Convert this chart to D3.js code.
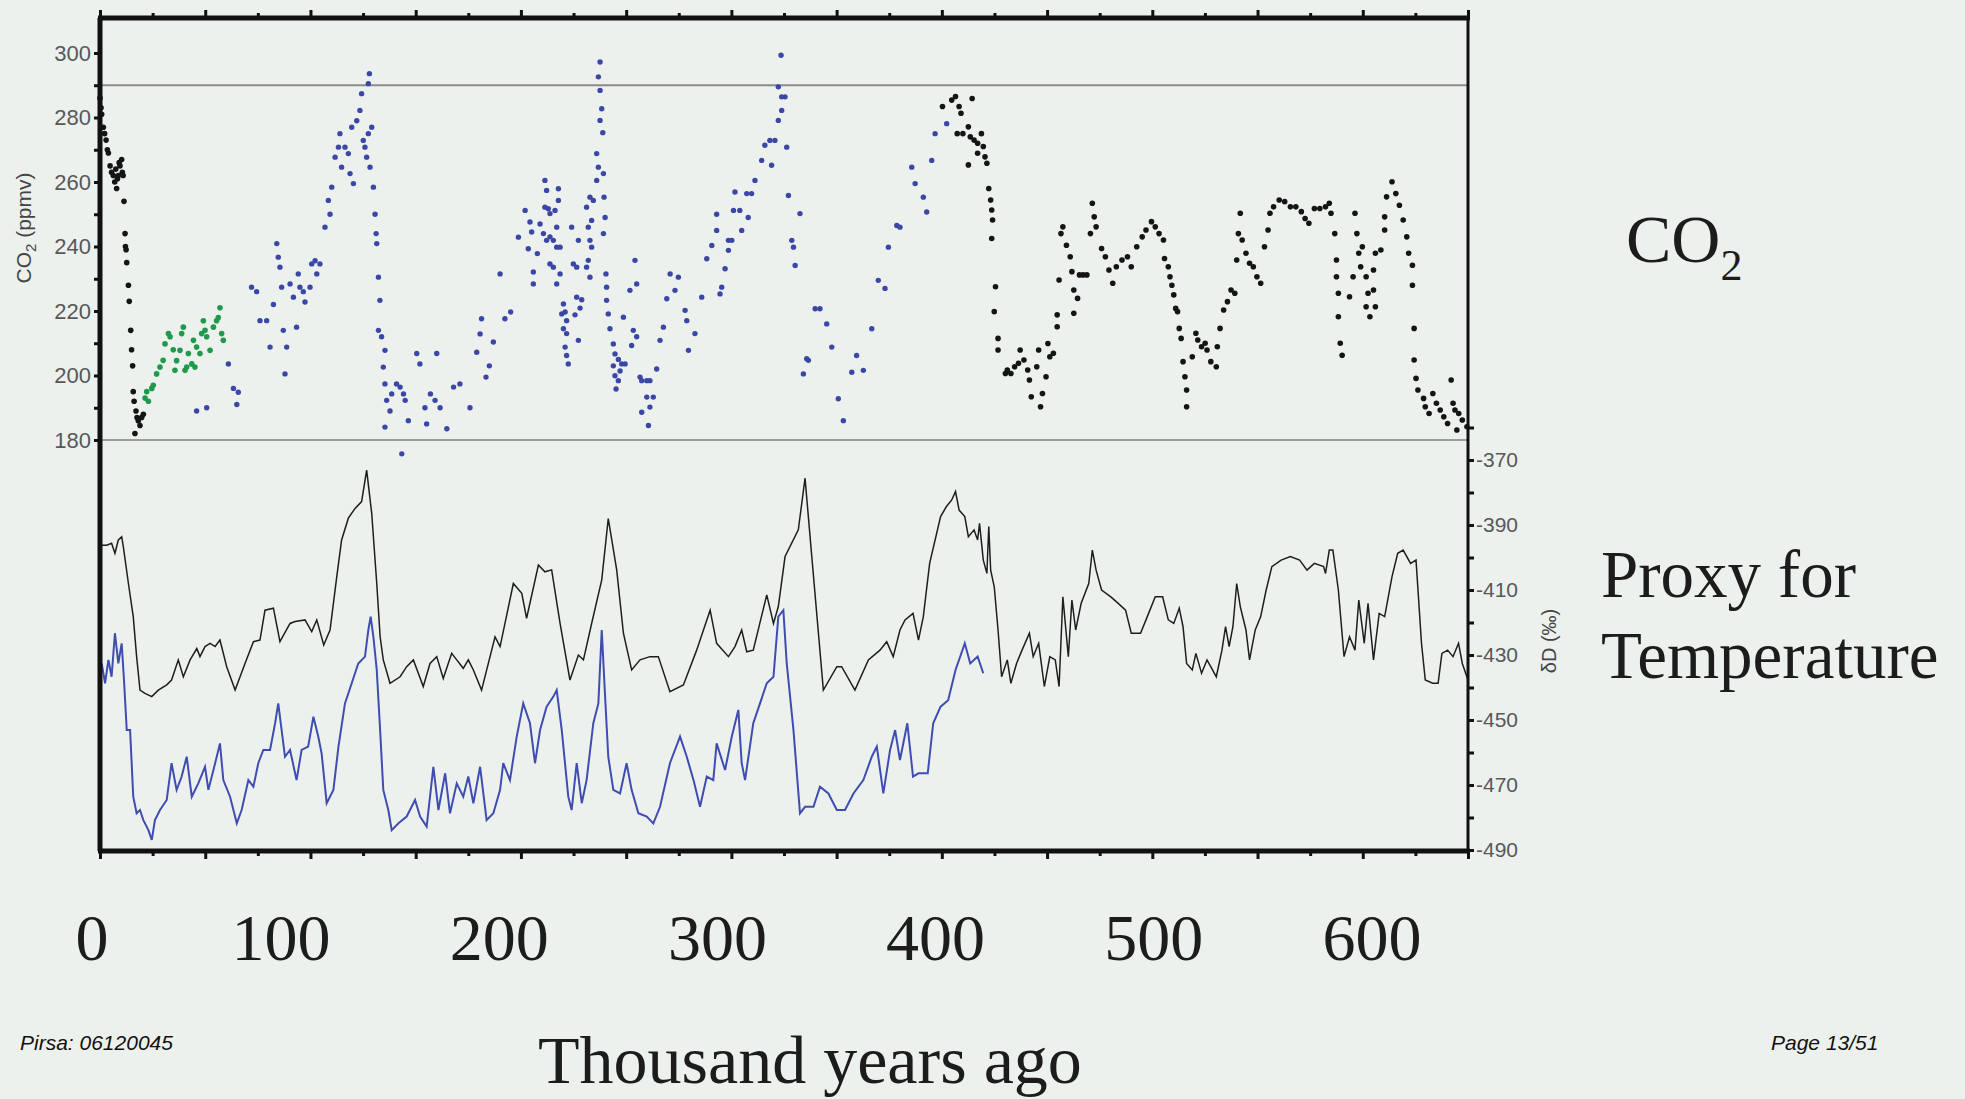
<!DOCTYPE html>
<html>
<head>
<meta charset="utf-8">
<script src="https://cdn.jsdelivr.net/npm/d3@7/dist/d3.min.js"></script>
<style>
  html, body { margin: 0; padding: 0; background: #edf1ee; }
  svg { display: block; }
</style>
</head>
<body>
<svg id="chart" width="1965" height="1099"></svg>
<script>
// --- data (age in kyr BP) ---
var domeCO2 = [[0,286],[0.5,283],[0.8,281],[1.6,277],[2.2,275],[2.9,273],[3.5,270],[4,269],[4.8,265],[5.5,263],[6.3,262],[7,260],[7.5,264],[7.9,258],[8.3,261],[8.7,262],[9.1,266],[9.5,265],[10.3,267],[10.6,263],[11,262],[11.4,254],[11.9,244],[12.1,240],[12.4,239],[12.7,235],[13.5,228],[13.9,223],[14.6,214],[15,208],[15.5,203],[15.8,195],[16.2,192],[16.6,182],[17.1,189],[17.6,187],[18.2,186],[19,184.5],[19.8,187],[20.6,188],
  [400.3,283.4],[404.7,285.4],[406.5,286.5],[408.2,283.4],[409.1,281.3],[414.4,285.9],[407.3,275],[410,275],[412.6,277.1],[413.5,274],[415.3,273],[417,272],[418.8,275],[419.7,271],[420.5,267.8],[417,268.9],[412.6,265.3],[421.4,265.8],[422.3,258],[423.2,254.4],[423.7,251.3],[424.1,248.2],[423.7,242.5],[425.5,227.5],[424.9,219.8],[426.7,211.5],[426.7,207.9],[431.1,201.7],[432.8,200.6],[430.2,200.6],[434.6,202.7],[436.4,203.8],[437.2,207.9],[439,204.8],[440.8,201.7],[441.6,198.6],[442.5,193.4],[445.1,202.7],[446,207.9],[446.9,190.3],[447.8,194.4],[449.5,199.6],[450.4,209.9],[451.3,205.8],[453,206.9],[454.8,215.1],[454.8,218.8],[455.7,229.6],[456.6,244],[457.5,246.1],[459.2,240.4],[461,236.8],[461.8,232.2],[462.7,226.5],[462.7,219.3],[464.5,223.9],[465.4,231.2],[467.1,231.2],[468.9,231.2],[470.6,244],[471.5,253.4],[472.4,249.2],[473.3,246.1],[475.9,239.4],[477.7,236.8],[479.4,232.7],[481.2,228.6],[482.9,233.7],[485.6,235.8],[488.2,236.8],[490,233.7],[492.6,239.9],[495.2,243],[497,245.1],[499.6,247.7],[501.4,246.1],[503.2,244],[505.3,242],[505.8,236.3],[507.6,233.7],[508.4,230.6],[509.3,228],[510.2,225],[511.1,220.8],[512,219.8],[512.8,214.6],[513.7,211.5],[514.6,204.3],[515.5,199.6],[516.3,195.5],[516.3,190.3],[519,205.8],[520.7,213.1],[521.6,211],[523.4,208.9],[525.1,210],[526,207.9],[527.8,204.3],[530.4,202.7],[530.9,208.9],[532.2,214.6],[533.9,220.3],[535.7,222.9],[537.4,226.5],[539.2,225.5],[540.1,235.8],[540.9,244],[541.8,250.3],[542.7,242],[544.5,237.9],[546.2,234.8],[548,233.7],[549.7,230.6],[551.5,228.6],[553.3,239.9],[555,245.1],[555.9,250.3],[557.6,252.3],[560.3,254.4],[562.9,253.9],[565.6,252.3],[568.2,252.3],[570.8,250.8],[572.6,248.7],[574.4,247.2],[577,251.8],[579.6,251.8],[582.3,252.3],[584.1,253.4],[584.9,250.3],[586.7,244],[587.5,235.8],[587.5,230.6],[588.4,225.5],[588.4,218.2],[589.3,210],[590.2,206.3],[593.7,224.4],[595.4,230.6],[596.3,250.3],[597.2,244],[598.1,237.9],[599,233.7],[599.8,239.9],[601.6,230.6],[602.5,225.5],[601.6,221.3],[603.4,218.2],[605.1,232.7],[606,237.9],[605.1,226.5],[606,221.3],[608.6,238.9],[610.4,245.1],[610.4,249.2],[611.3,255.4],[613.9,260.1],[615.7,256.4],[617.4,252.8],[619.2,248.2],[620.9,243],[621.8,237.9],[623.6,234.2],[623.6,228],[624.4,214.6],[624.4,204.8],[625.3,199.1],[626.2,195.5],[628.9,192.9],[629.7,190.3],[631.5,188.2],[633.3,194.4],[635,191.4],[636.8,189.3],[638.5,187.2],[640.3,185.1],[642,198.6],[642.9,191.4],[643.8,189.3],[645.6,188.2],[647.3,186.2],[644.7,183.1],[649.5,184.1]];

var vostokCO2 = [[45.9,189],[50.7,190],[61,203.6],[63.4,196],[65.7,194.8],[65,191],[72,227.4],[74.4,226],[76,217],[79.2,217],[80.8,208.8],[82.4,222],[84,240.9],[84.7,236.7],[85.5,233.6],[86.3,227.4],[87.1,214],[87.9,200.5],[88.7,208.8],[90.3,228.4],[91.9,224.3],[93.4,215],[94.2,231.5],[95,227.4],[96.6,226],[97.4,222.8],[99.8,227.4],[100.6,234.6],[102.2,235.6],[103,231.5],[104.5,234.6],[106.9,246],[109.3,250],[108.5,254.3],[110.1,258.4],[111.7,267.7],[113.3,270.8],[114,275],[114.8,264.6],[116.4,270.8],[118,268.8],[118.8,262.6],[120.4,259.5],[119.6,277],[122,279],[123.5,282.2],[124.3,287.4],[125.1,272.9],[125.9,270.8],[126.7,267.7],[127.5,275],[127.5,290.5],[128,293.6],[128.3,264.6],[129.1,277],[129.9,258.4],[130.7,250],[131.2,244],[131.5,240.9],[132.3,230.5],[133,223.3],[132.3,214],[133.8,212],[134.6,202.6],[135.4,207.8],[135.4,197.4],[136.2,192.3],[137.8,189],[135.4,184],[138.6,194.3],[140.9,197.4],[142.6,196.4],[143.4,175.7],[144.2,194.3],[145,192.3],[146.5,186],[150.5,206.8],[152,203.6],[154.4,190],[155.2,185],[157,194.3],[159.2,192.3],[160,206.8],[161.6,190],[164.8,183.5],[168,196.4],
  [171,197.4],[175.8,190],[179,207.2],[180.6,212.9],[181.3,217.6],[183.4,199.5],[185,203],[186.9,210.4],[190.1,231.5],[192.4,217.6],[195.1,219.7],[198.8,242.9],[202,251.2],[204.3,247.6],[205.1,244.5],[203.5,239.3],[205.9,232.1],[205.9,228.4],[207.8,237.8],[211.4,260.5],[212.2,257.4],[211.4,252.2],[213,251.7],[213.8,250.2],[209.1,247],[210.7,244],[212.2,241.9],[213.8,243],[215.4,241.9],[217,239.8],[213.8,234.6],[215.4,233.6],[217,228.4],[218.6,231.5],[217.8,257.9],[217.8,254.3],[216.2,251.2],[217,246],[218.6,239.8],[220.2,222.2],[221,219.7],[219.4,219.1],[221.7,217],[220.2,214.5],[221.7,213],[221,208.8],[221.7,206.2],[222.5,203.6],[224.1,246],[224.9,234.6],[226.5,233.6],[227.3,241.9],[226.5,224.3],[228.9,223.5],[228.1,220.9],[225.7,218.8],[227.3,210.9],[231.2,252.2],[232,246],[232.8,255.3],[234.4,254.3],[232,235.7],[231.2,233.6],[232.8,241.9],[233.6,248.1],[233.6,239.8],[232.8,230.5],[236,260.5],[236,268.8],[236.8,264.6],[239.2,262.6],[236.8,292.6],[237.6,288.4],[237.6,297.2],[238.4,282.7],[237.6,279.1],[238.9,275.3],[239.5,255.3],[240,249],[239.2,244],[240.4,231.5],[240.7,227.4],[240.7,223.3],[241.5,219.1],[242.3,214.5],[243.9,209.8],[244.7,206.7],[246.3,205],[243.9,203],[244.7,199.9],[246.3,198.4],[245.2,195.8],[247.1,201.4],[247.9,203.6],[249.5,203.6],[248.7,218.1],[251.8,226.4],[252.6,209.3],[253.4,214],[255,228.4],[254.2,235.7],[255,212],[256.6,199.5],[257.4,198.4],[259.8,198.4],[261.3,198.4],[262.9,193.3],[259.8,193.3],[257.4,188.6],[261.3,190.2],[264.5,202],[260.6,184.5],[266.1,210.9],[267.7,215],[269.3,223.8],[270.9,231.5],[274.8,230.5],[273.2,226.4],[278,220.2],[278.8,217],[279.6,207.8],[282.7,213],[285.9,224.3],[288.3,236.2],[290.7,240.3],[293,245],[293,250],[294.6,225.3],[295.4,227.4],[297,233.1],[298.6,238.8],[298.6,241.9],[300.2,241.9],[301,251.2],[301.7,256.9],[304,251.2],[304.9,245],[308,249],[307.3,256.4],[309.6,256.4],[311.2,260.5],[314.4,266.7],[315.9,271.4],[319.1,265.2],[318.3,272.9],[320.7,272.9],[322.3,279.1],[323.9,282.2],[322.3,289.5],[323.9,286.4],[325.5,286.4],[323.6,299.3],[326.3,270.8],[327.1,255.8],[328.7,241.9],[329.5,239.8],[330.3,234.1],[332.6,250.2],[339.8,220.7],[342.1,220.7],[345.3,216],[335.8,205.2],[336.6,204.7],[334.2,200.5],[347.7,208.8],[350.8,192.8],[353.2,186],[357.2,201],[359.5,206.2],[362.7,201.6],[366.7,214.5],[369.8,229.5],[373,227],[374.6,239.8],[378.6,246.5],[380.1,246],[385.7,264.6],[387.3,259.5],[391.2,255.3],[392.8,250.7],[395.2,266.7],[396.8,275],[402.3,278.1]];

var taylorCO2 = [[21.4,193],[22.2,195],[23,192],[24.6,196],[25.3,197],[26.9,200.5],[28.5,202.6],[30,204.7],[30.9,209.8],[32.5,213],[33.3,212],[34.8,208],[35.6,201.6],[36.4,204.6],[38,207.8],[38.8,213],[39.6,215],[40.4,201.6],[41.2,202.6],[42,206.8],[43.6,203.6],[44.4,210.9],[45.1,202.6],[45.9,208.8],[47.5,206.8],[48.3,213],[49.1,217],[49.9,214],[50.7,212],[52.3,207.8],[53.9,215],[55.4,217],[56.2,218],[57,221],[57.8,213],[58.6,210.9]];

var domeDD = [[0.8,-396.2],[3.2,-396.2],[5.5,-395.6],[7.1,-398.7],[8.7,-394.6],[10.3,-393.6],[11.1,-396.7],[13.5,-408],[15.8,-418.2],[17.4,-430.5],[19,-440.8],[21.4,-441.8],[24.6,-442.8],[27.7,-440.8],[31.7,-439.2],[34,-437.7],[37.2,-431.5],[39.6,-436.7],[42.8,-431.5],[46,-428],[47.5,-430.5],[49.9,-427.4],[52.3,-426.4],[54.7,-427.4],[57,-425.4],[60.2,-433.6],[64.2,-440.8],[68.9,-432.6],[72.9,-425.9],[76,-425.4],[78.4,-416.2],[82.4,-415.6],[85.5,-425.9],[90.3,-420.3],[92.7,-419.7],[97.4,-419.2],[100.6,-422.8],[103,-419.2],[106.3,-426.9],[109.3,-422.3],[112.5,-405.9],[114.8,-394.6],[118,-387.9],[121.2,-384.9],[124.3,-382.8],[126.7,-373.1],[129.1,-386.4],[131.5,-408],[133.1,-424.4],[134.6,-431.5],[137.8,-438.7],[142.6,-436.7],[145.7,-433.6],[148.9,-431.5],[153.6,-439.7],[156.8,-432.6],[160,-430.5],[163.1,-437.2],[167.1,-429.5],[169.5,-431.5],[172.6,-434.1],[175,-431.5],[177.4,-434.6],[181.3,-440.8],[187.7,-424.4],[190.1,-427.4],[196.4,-408],[200.4,-411],[202.7,-418.7],[208.3,-402.3],[211.4,-404.4],[214.6,-403.8],[218.6,-420.3],[223.3,-437.7],[227.3,-430],[229.7,-431.5],[233.6,-420.3],[238.4,-406.9],[241.5,-388],[245.5,-403.8],[248.7,-423.3],[252.6,-434.6],[256.6,-431.5],[261.3,-430.5],[265.3,-430.5],[270.8,-441.3],[277.2,-439.2],[283.5,-428.5],[289.9,-416.2],[293,-426.4],[298.6,-430.5],[301.7,-427.4],[304.9,-422.3],[307.3,-429],[310.4,-428.5],[316.8,-411.5],[320,-420.3],[322.3,-415.1],[325.5,-399.7],[331.8,-391.5],[335,-375.6],[338.2,-399.7],[343.7,-440.8],[350.1,-433.6],[352.4,-433.6],[358.7,-440.8],[365.1,-431.5],[370.6,-428.5],[373.8,-425.9],[376.9,-430.5],[380.1,-422.3],[382.5,-419.2],[386.3,-417.2],[388.9,-425.4],[391.2,-418.2],[394.2,-401.8],[399.4,-387.4],[402.1,-384.4],[404.7,-382.3],[406.5,-379.7],[408.2,-385.4],[410.9,-387.4],[412.6,-393.6],[415.3,-391.5],[417,-394.6],[417.9,-389.5],[419.7,-400.8],[421.4,-404.9],[422.3,-390.5],[423.2,-403.9],[424.9,-409],[426.7,-422.3],[428.4,-436.7],[431.1,-431.5],[432.8,-438.7],[435.5,-432.6],[438.1,-428.5],[441.6,-423.3],[443.4,-430.5],[446,-426.4],[448.7,-439.7],[451.3,-430.5],[453.9,-431.5],[455.7,-439.7],[457.5,-412.1],[460.1,-430.5],[461.8,-413.1],[463.6,-422.3],[466.2,-414.1],[469.8,-408],[471.5,-397.7],[473.3,-403.9],[475.9,-410],[480.3,-412.1],[483.8,-414.1],[487.3,-416.2],[490,-423.3],[494.4,-423.3],[497,-419.2],[501.4,-412.1],[504.9,-412.1],[507.6,-419.2],[510.2,-420.3],[512.8,-415.6],[514.6,-421.3],[516.3,-432.6],[519,-434.6],[520.7,-429.5],[523.4,-435.6],[526,-431.5],[528.6,-434.6],[530.4,-436.7],[533.1,-428.5],[534.8,-421.3],[536.5,-427.4],[538.3,-421.3],[540.1,-408],[541.8,-415.1],[544.5,-422.3],[546.2,-431.5],[548.9,-422.3],[551.5,-418.2],[554.1,-410],[556.8,-402.8],[561.2,-400.8],[565.6,-399.7],[570,-400.8],[573.5,-403.9],[577,-401.8],[581.4,-402.8],[582.3,-404.9],[584.1,-397.7],[585.8,-397.7],[588.4,-410],[591.1,-430.5],[593.7,-424.4],[596.3,-428.5],[598.1,-413.1],[600.7,-426.4],[602.5,-414.1],[605.1,-431.5],[607.8,-417.2],[610.4,-418.2],[613.9,-405.9],[616.6,-398.7],[619.2,-397.7],[622.7,-401.8],[625.3,-400.8],[627.9,-426.4],[629.7,-437.7],[633.2,-438.7],[635.8,-438.7],[637.6,-429.5],[640.3,-428.5],[642.9,-430.5],[645.5,-426.4],[647.3,-432.6],[650,-437.7]];

var vostokDD = [[0.8,-432.6],[2.4,-438.7],[4,-431.5],[5.5,-436.7],[7.1,-423.3],[8.7,-432.6],[10.3,-426.4],[11.4,-437.7],[12.7,-453.1],[14.3,-453.1],[15.8,-473.6],[17.4,-478.7],[19,-477.7],[20.6,-480.8],[23,-483.9],[24.6,-486.9],[26.1,-480.8],[28.5,-477.7],[31.7,-474.6],[34,-463.3],[36.4,-471.5],[38.8,-467.4],[41.2,-461.3],[43.6,-473.6],[46.7,-469.5],[49.9,-464.4],[51.5,-471.5],[54.7,-463.3],[57,-457.2],[58.6,-468.5],[61.8,-473.6],[65,-481.8],[67.3,-477.7],[70.5,-468.5],[72.9,-470.5],[75.2,-463.3],[77.6,-459.2],[80.8,-459.2],[83.2,-451],[84.7,-444.9],[86.3,-453.1],[87.9,-461.3],[90.3,-459.2],[93.4,-468.5],[95.8,-459.2],[98.9,-458.2],[101.4,-449],[103.7,-455.1],[105.3,-460.3],[107.7,-475.6],[110.9,-471.5],[113.3,-458.2],[116.4,-444.9],[119.6,-438.7],[122.7,-432.6],[125.9,-430.5],[127.5,-422.3],[128.6,-418.2],[129.9,-424.4],[131.5,-434.6],[133.1,-453.1],[134.6,-471.5],[137,-477.7],[138.6,-483.9],[141.8,-481.8],[145.7,-479.7],[149.7,-474.6],[152.1,-479.7],[155.2,-482.8],[158.4,-464.4],[160.8,-477.7],[164,-466.4],[166.3,-478.7],[169.5,-469.5],[172.6,-473.6],[175,-467.4],[177.4,-475.6],[180.6,-464.4],[183.7,-480.8],[186.9,-478.7],[190.1,-471.5],[191.6,-463.3],[194.8,-468.5],[198,-455.1],[201.1,-444.9],[204.3,-451],[206.7,-463.3],[209.1,-453.1],[212.2,-445.9],[215.4,-442.8],[217,-440.8],[219.4,-453.1],[222.5,-473.6],[224.1,-477.7],[226.5,-463.3],[228.9,-475.6],[231.2,-468.5],[234.4,-451],[236.8,-444.9],[238.4,-422.3],[240,-442.8],[241.5,-461.3],[243.9,-471.5],[247.1,-472.6],[250.2,-463.3],[252.6,-471.5],[255.8,-478.7],[259.8,-479.7],[262.9,-481.8],[266.1,-476.7],[270.8,-463.3],[275.6,-455.1],[278.8,-461.3],[282,-468.5],[285.1,-476.7],[288.3,-467.4],[291.4,-468.5],[293,-457.2],[297,-465.4],[300.2,-455.1],[303.3,-446.9],[304.9,-463.3],[306.5,-468.5],[310.4,-451],[313.6,-444.9],[316.8,-438.7],[320,-436.7],[322.3,-418.2],[324.7,-416.2],[326.3,-432.6],[329.5,-453.1],[332.6,-478.7],[335,-476.7],[339,-476.7],[342.1,-470.5],[346.1,-472.6],[350.1,-477.7],[354,-477.7],[358,-472.6],[362.7,-468.5],[366.7,-461.3],[369.1,-458.2],[372.2,-472.6],[375.4,-459.2],[377.8,-453.1],[380.1,-462.3],[383.6,-451],[386.3,-467.4],[388.9,-466.4],[393.3,-466.4],[395.9,-451],[399.4,-445.9],[403,-443.9],[406.5,-434.6],[410.9,-426.4],[413.5,-432.6],[417,-430.5],[419.7,-435.6]];

var co2Ticks = d3.range(180, 301, 10);
var co2Labels = [180, 200, 220, 240, 260, 280, 300];
var ddTicks = d3.range(-490, -359, 10);
var ddLabels = [-370, -390, -410, -430, -450, -470, -490];
var ageTicks = d3.range(0, 651, 25);
var slideAges = [0, 100, 200, 300, 400, 500, 600];
var refCO2 = 290;

// --- layout ---
var svg = d3.select("#chart");
var plot = { left: 100, right: 1468, top: 18, bottom: 851 };

var x = d3.scaleLinear().domain([0, 650]).range([plot.left, plot.right]);
var yCO2 = d3.scaleLinear().domain([180, 300]).range([440, 53]);
var yDD = d3.scaleLinear().domain([-490, -370]).range([850, 460]);
// slide labels under the chart were typed by hand, not on the axis
var xSlide = d3.scaleLinear().domain([0, 100, 600]).range([92, 281, 1372]);

var serif = "'Liberation Serif', 'Times New Roman', serif";
var sans = "'Liberation Sans', Arial, sans-serif";

// reference lines
svg.append("line").attr("x1", plot.left).attr("x2", plot.right)
  .attr("y1", yCO2(refCO2)).attr("y2", yCO2(refCO2))
  .attr("stroke", "#8a8d8b").attr("stroke-width", 2);
svg.append("line").attr("x1", plot.left).attr("x2", plot.right)
  .attr("y1", yCO2(180)).attr("y2", yCO2(180))
  .attr("stroke", "#4a4a4a").attr("stroke-width", 1.2);

// δD lines
var ddLine = d3.line().x(function(d) { return x(d[0]); }).y(function(d) { return yDD(d[1]); });
svg.append("path").attr("d", ddLine(vostokDD)).attr("fill", "none")
  .attr("stroke", "#3f4db0").attr("stroke-width", 2);
svg.append("path").attr("d", ddLine(domeDD)).attr("fill", "none")
  .attr("stroke", "#1e1e1e").attr("stroke-width", 1.5);

// CO2 dots
function dots(data, color, r) {
  svg.append("g").selectAll("circle").data(data).enter().append("circle")
    .attr("cx", function(d) { return x(d[0]); })
    .attr("cy", function(d) { return yCO2(d[1]); })
    .attr("r", r).attr("fill", color);
}
dots(vostokCO2, "#3a47a6", 2.7);
dots(taylorCO2, "#1f9a4c", 2.8);
dots(domeCO2, "#141414", 2.8);

// axes
function styleAxis(g, size) {
  g.select(".domain").remove();
  g.selectAll(".tick line").attr("stroke", "#111").attr("stroke-width", 3);
  g.selectAll(".tick text").attr("fill", "#585858").style("font-family", sans).style("font-size", size + "px");
}

var leftAxis = svg.append("g").attr("transform", "translate(" + plot.left + ",0)")
  .call(d3.axisLeft(yCO2).tickValues(co2Ticks).tickSize(6).tickPadding(3)
    .tickFormat(function(d) { return co2Labels.indexOf(d) >= 0 ? d : ""; }));
styleAxis(leftAxis, 22);

var rightAxis = svg.append("g").attr("transform", "translate(" + plot.right + ",0)")
  .call(d3.axisRight(yDD).tickValues(ddTicks).tickSize(6).tickPadding(2)
    .tickFormat(function(d) { return ddLabels.indexOf(d) >= 0 ? String(d) : ""; }));
styleAxis(rightAxis, 21);

var topAxis = svg.append("g").attr("transform", "translate(0," + plot.top + ")")
  .call(d3.axisTop(x).tickValues(ageTicks).tickSize(6).tickFormat(""));
styleAxis(topAxis, 10);
topAxis.selectAll(".tick line").attr("y2", function(d) { return d % 50 === 0 ? -8 : -5; });

var bottomAxis = svg.append("g").attr("transform", "translate(0," + plot.bottom + ")")
  .call(d3.axisBottom(x).tickValues(ageTicks).tickSize(6).tickFormat(""));
styleAxis(bottomAxis, 10);
bottomAxis.selectAll(".tick line").attr("y2", function(d) { return d % 50 === 0 ? 8 : 5; });

// frame
svg.append("line").attr("x1", plot.left - 2).attr("x2", plot.right + 2).attr("y1", plot.top).attr("y2", plot.top)
  .attr("stroke", "#111").attr("stroke-width", 5);
svg.append("line").attr("x1", plot.left - 2).attr("x2", plot.right + 2).attr("y1", plot.bottom).attr("y2", plot.bottom)
  .attr("stroke", "#111").attr("stroke-width", 5);
svg.append("line").attr("x1", plot.left).attr("x2", plot.left).attr("y1", plot.top).attr("y2", plot.bottom)
  .attr("stroke", "#111").attr("stroke-width", 5);
svg.append("line").attr("x1", plot.right).attr("x2", plot.right).attr("y1", plot.top).attr("y2", plot.bottom)
  .attr("stroke", "#111").attr("stroke-width", 3);

// axis titles
var t1 = svg.append("text").attr("transform", "translate(31,228) rotate(-90)")
  .attr("text-anchor", "middle").attr("fill", "#444").style("font-family", sans).style("font-size", "21px");
t1.append("tspan").text("CO");
t1.append("tspan").attr("dy", 5).style("font-size", "15px").text("2");
t1.append("tspan").attr("dy", -5).text(" (ppmv)");

svg.append("text").attr("transform", "translate(1556,641) rotate(-90)")
  .attr("text-anchor", "middle").attr("fill", "#444").style("font-family", sans).style("font-size", "20px")
  .text("δD (‰)");

// slide text
svg.append("g").selectAll("text").data(slideAges).enter().append("text")
  .attr("x", function(d) { return xSlide(d); }).attr("y", 960)
  .attr("text-anchor", "middle").attr("fill", "#1c1c1c")
  .style("font-family", serif).style("font-size", "66px")
  .text(function(d) { return d; });

svg.append("text").attr("x", 538).attr("y", 1083).attr("fill", "#1c1c1c")
  .style("font-family", serif).style("font-size", "68px").text("Thousand years ago");

var co2Title = svg.append("text").attr("x", 1626).attr("y", 262).attr("fill", "#1c1c1c")
  .style("font-family", serif).style("font-size", "68px");
co2Title.append("tspan").text("CO");
co2Title.append("tspan").attr("dy", 18).style("font-size", "44px").text("2");

svg.append("text").attr("x", 1601).attr("y", 597).attr("fill", "#1c1c1c")
  .style("font-family", serif).style("font-size", "67px").text("Proxy for");
svg.append("text").attr("x", 1601).attr("y", 678).attr("fill", "#1c1c1c")
  .style("font-family", serif).style("font-size", "67px").text("Temperature");

svg.append("text").attr("x", 20).attr("y", 1050).attr("fill", "#111")
  .style("font-family", sans).style("font-style", "italic").style("font-size", "21px").text("Pirsa: 06120045");
svg.append("text").attr("x", 1771).attr("y", 1050).attr("fill", "#111")
  .style("font-family", sans).style("font-style", "italic").style("font-size", "21px").text("Page 13/51");
</script>
</body>
</html>
